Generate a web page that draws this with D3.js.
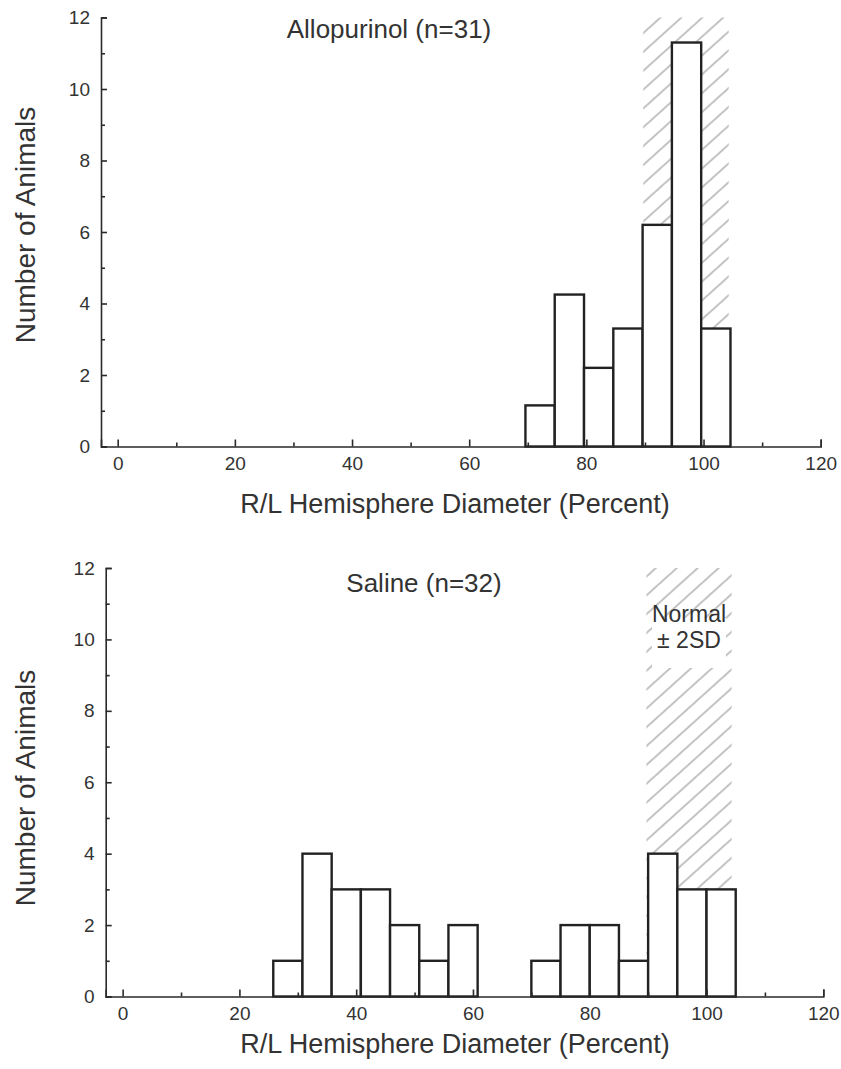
<!DOCTYPE html>
<html>
<head>
<meta charset="utf-8">
<script src="https://cdn.jsdelivr.net/npm/d3@7"></script>
<style>
  body { margin: 0; background: #fff; }
  text { font-family: "Liberation Sans", Arial, sans-serif; fill: #333; }
</style>
</head>
<body>
<svg></svg>
<script>
let width = 841;
let height = 1069;

// data
const xMajorTicks = [0, 20, 40, 60, 80, 100, 120];
const xMinorTicks = [10, 30, 50, 70, 90, 110];
const yMajorTicks = [0, 2, 4, 6, 8, 10, 12];
const yMinorTicks = [1, 3, 5, 7, 9, 11];
const binWidth = 5;
const normalRange = [89.7, 104.3];

// Allopurinol: bin starts and bar heights
const alloBins = [69.6, 74.6, 79.6, 84.6, 89.6, 94.6, 99.6];
const alloCounts = [1.15, 4.25, 2.2, 3.3, 6.2, 11.3, 3.3];

// Saline
const salineBins = [25.8, 30.8, 35.8, 40.8, 45.8, 50.8, 55.8, 70, 75, 80, 85, 90, 95, 100];
const salineCounts = [1, 4, 3, 3, 2, 1, 2, 1, 2, 2, 1, 4, 3, 3];

const svg = d3.select("svg")
  .attr("width", width)
  .attr("height", height);

//hatch pattern
svg.append("defs").append("pattern")
  .attr("id", "hatch")
  .attr("patternUnits", "userSpaceOnUse")
  .attr("width", 14)
  .attr("height", 14)
  .attr("patternTransform", "rotate(-42)")
  .append("line")
    .attr("x1", 0).attr("y1", 7)
    .attr("x2", 14).attr("y2", 7)
    .attr("stroke", "#888")
    .attr("stroke-width", 1);

function drawPanel(p) {
  const g = svg.append("g");

  const xScale = d3.scaleLinear()
    .domain([p.xStart, 120])
    .range([p.left, p.right]);
  const yScale = d3.scaleLinear()
    .domain([0, 12])
    .range([p.bottom, p.top]);

  // normal +-2SD hatched band
  g.append("rect")
    .attr("x", xScale(normalRange[0]))
    .attr("y", yScale(12))
    .attr("width", xScale(normalRange[1]) - xScale(normalRange[0]))
    .attr("height", yScale(0) - yScale(12))
    .attr("fill", "url(#hatch)");

  //bars
  g.selectAll(".bar")
    .data(p.bins.map((b, i) => ({ x0: b, n: p.counts[i] })))
    .enter()
    .append("rect")
    .attr("class", "bar")
    .attr("x", d => xScale(d.x0))
    .attr("y", d => yScale(d.n))
    .attr("width", d => xScale(d.x0 + binWidth) - xScale(d.x0))
    .attr("height", d => yScale(0) - yScale(d.n))
    .attr("fill", "#fff")
    .attr("stroke", "#222")
    .attr("stroke-width", 2.4);

  //axis
  g.append("g")
    .attr("transform", `translate(0, ${p.bottom})`)
    .call(d3.axisBottom(xScale).tickValues(xMajorTicks).tickSize(-7).tickSizeOuter(-7).tickPadding(10));
  g.append("g")
    .attr("transform", `translate(0, ${p.bottom})`)
    .call(d3.axisBottom(xScale).tickValues(xMinorTicks).tickSize(-4).tickFormat(""))
    .select(".domain").remove();

  g.append("g")
    .attr("transform", `translate(${p.left}, 0)`)
    .call(d3.axisLeft(yScale).tickValues(yMajorTicks).tickSize(-6).tickSizeOuter(-6).tickPadding(11));
  g.append("g")
    .attr("transform", `translate(${p.left}, 0)`)
    .call(d3.axisLeft(yScale).tickValues(yMinorTicks).tickSize(-4).tickFormat(""))
    .select(".domain").remove();

  g.selectAll(".domain, .tick line")
    .attr("stroke", "#2a2a2a")
    .attr("stroke-width", 1.6);
  g.selectAll(".tick text")
    .style("font-family", "'Liberation Sans', Arial, sans-serif")
    .style("font-size", "19px")
    .attr("fill", "#444");

  // titles
  g.append("text")
    .attr("x", p.titleX)
    .attr("y", p.titleY)
    .attr("text-anchor", "middle")
    .style("font-size", "26px")
    .text(p.title);
  g.append("text")
    .attr("x", 455)
    .attr("y", p.xTitleY)
    .attr("text-anchor", "middle")
    .style("font-size", "27px")
    .text("R/L Hemisphere Diameter (Percent)");
  g.append("text")
    .attr("transform", `translate(35, ${p.yTitleY}) rotate(-90)`)
    .attr("text-anchor", "middle")
    .style("font-size", "28px")
    .text("Number of Animals");

  if (p.normalLabel) {
    const cx = xScale((normalRange[0] + normalRange[1]) / 2);
    g.append("rect")
      .attr("x", cx - 37)
      .attr("y", yScale(10.6))
      .attr("width", 74)
      .attr("height", 50)
      .attr("fill", "#fff");
    g.append("text")
      .attr("x", cx)
      .attr("y", yScale(10.5))
      .attr("text-anchor", "middle")
      .style("font-size", "23px")
      .text("Normal");
    g.append("text")
      .attr("x", cx)
      .attr("y", yScale(9.75))
      .attr("text-anchor", "middle")
      .style("font-size", "23px")
      .text("± 2SD");
  }
}

drawPanel({
  xStart: -2.85, left: 101, right: 820.7, top: 17.5, bottom: 446.5,
  bins: alloBins, counts: alloCounts,
  title: "Allopurinol (n=31)", titleX: 389, titleY: 37.5,
  xTitleY: 513, yTitleY: 225, normalLabel: false
});

drawPanel({
  xStart: -2.9, left: 105.7, right: 823.3, top: 568, bottom: 996.5,
  bins: salineBins, counts: salineCounts,
  title: "Saline (n=32)", titleX: 424, titleY: 592,
  xTitleY: 1053, yTitleY: 788, normalLabel: true
});
</script>
</body>
</html>
